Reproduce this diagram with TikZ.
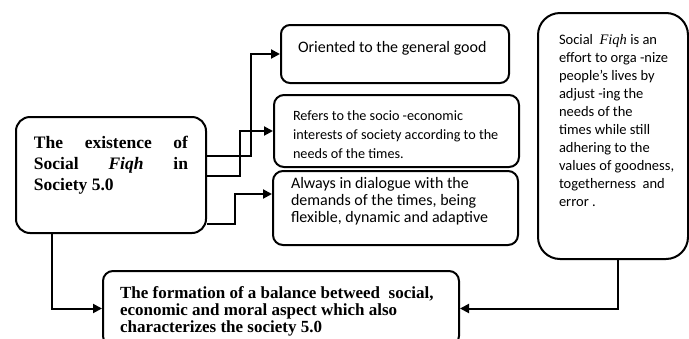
\documentclass[tikz,border=0pt]{standalone}
\usepackage{fontspec}
\setmainfont{Liberation Serif}
\newfontfamily\calibri{Carlito}
\usetikzlibrary{arrows.meta}

\tikzset{
  box/.style={draw, line width=2pt, anchor=north west, rounded corners=#1},
  box/.default=10pt,
  link/.style={line width=2pt, -{Triangle[length=9pt,width=9pt]}},
}

\begin{document}
\begin{tikzpicture}[x=1pt, y=-1pt]
    % page frame
    \useasboundingbox (0,0) rectangle (689,338);

    % left box: the main idea
    \node[box=14pt, inner xsep=18pt, inner ysep=19pt] (exist) at (15,116)
      {\parbox[t][78pt][t]{154pt}{\fontsize{17.5}{21}\selectfont\bfseries
        The existence of\linebreak Social \textit{Fiqh} in\linebreak Society 5.0}};

    % three boxes in the middle column
    \node[box=9pt, inner xsep=17pt, inner ysep=16pt] (good) at (280,24)
      {\parbox[t][26pt][t]{194pt}{\calibri\fontsize{16}{19}\selectfont
        Oriented to the general good}};
    \node[box=10pt, inner xsep=19pt, inner ysep=16pt] (socio) at (273,94)
      {\parbox[t][40pt][t]{207pt}{\calibri\fontsize{14.2}{19}\selectfont
        Refers to the socio -economic\\
        interests of society according to the\\
        needs of the times.}};
    \node[box=10pt, inner xsep=18pt, inner ysep=6pt] (adapt) at (272,170)
      {\parbox[t][62pt][t]{209pt}{\calibri\fontsize{16}{17}\selectfont
        Always in dialogue with the\\
        demands of the times, being\\
        flexible, dynamic and adaptive}};

    % right box: definition
    \node[box=22pt, inner xsep=10pt, inner ysep=21pt] (fiqh) at (537,12)
      {\parbox[t][204pt][t]{130pt}{\calibri\fontsize{14.5}{18}\selectfont\leftskip=11pt
        Social \ {\rmfamily\itshape Fiqh} is an\\
        effort to orga -nize\\
        people’s lives by\\
        adjust -ing the\\
        needs of the\\
        times while still\\
        adhering to the\\
        values of goodness,\\
        togetherness \ and\\
        error .}};

    % bottom box: the result
    \node[box=10pt, inner xsep=17pt, inner ysep=16pt] (balance) at (102,270)
      {\parbox[t][43pt][t]{322pt}{\fontsize{17}{17}\selectfont\bfseries
        The formation of a balance betweed \ social,\\
        economic and moral aspect which also\\
        characterizes the society 5.0}};

    % connectors
    \draw[link] ([yshift=19pt]exist.east) -- ++(44,0) |- (good.west);
    \draw[link] ([yshift=-1pt]exist.east) -- ++(33,0) |- (socio.west);
    \draw[link] ([yshift=-49pt]exist.east) -- ++(28,0) |- ([yshift=14pt]adapt.west);
    \draw[link] ([xshift=37pt]exist.south west) |- (balance.west);
    \draw[link] ([xshift=5pt]fiqh.south) |- (balance.east);
\end{tikzpicture}
\end{document}
